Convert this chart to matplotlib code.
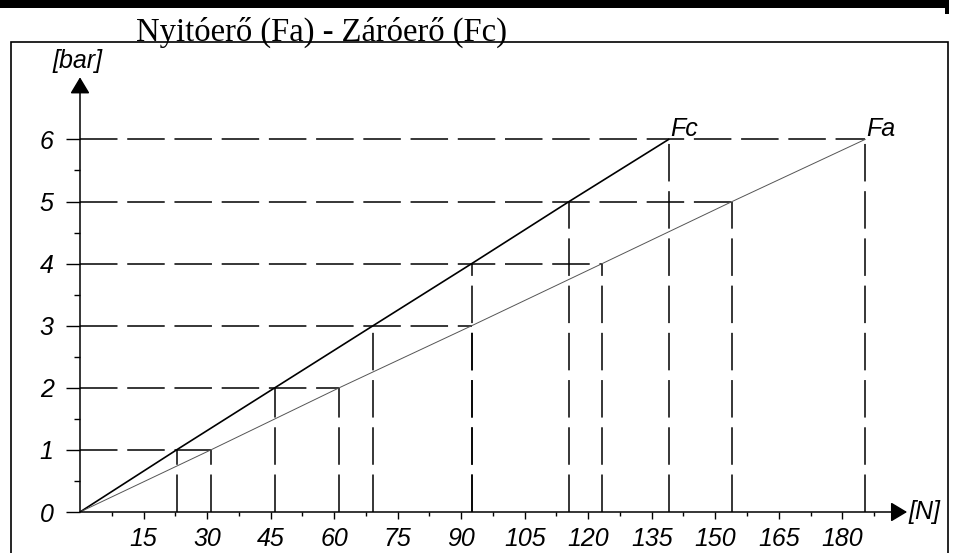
#plotting
import matplotlib
matplotlib.use('Agg')
import matplotlib.pyplot as plt
from matplotlib.patches import Rectangle

plt.rcParams['lines.scale_dashes'] = False

# values
pressure = [1, 2, 3, 4, 5, 6]                            # [bar]
fc_force = [22.8, 46.0, 69.2, 92.5, 115.5, 139.0]        # closing force Fc [N]
fa_force = [30.9, 61.2, 92.5, 123.3, 154.0, 185.4]       # opening force Fa [N]
x_ticks = [15, 30, 45, 60, 75, 90, 105, 120, 135, 150, 165, 180]
x_minor = [7.5 + 15 * i for i in range(13)]
y_ticks = [0, 1, 2, 3, 4, 5, 6]
y_minor = [0.5, 1.5, 2.5, 3.5, 4.5, 5.5]
title = 'Nyitóerő (Fa) - Záróerő (Fc)'

W, H = 956, 553
fig = plt.figure(figsize=(W / 100, H / 100), dpi=100)

# axes placed so 1 N = 4.235 px and 1 bar = 62.1 px, origin at (80, 512)
x0, y0 = 80, 512
xmax, ymax = 200, 7
ax = fig.add_axes([x0 / W, (H - y0) / H, xmax * 4.235 / W, ymax * 62.1 / H])
ax.set_xlim(0, xmax)
ax.set_ylim(0, ymax)
ax.patch.set_visible(False)
for s in ax.spines.values():
    s.set_visible(False)

dash = (0, (27, 7))
lw_d = 1.1

# dashed guide lines
for p, c, a in zip(pressure, fc_force, fa_force):
    ax.plot([0, a], [p, p], color='black', lw=lw_d, linestyle=dash)
    ax.plot([c, c], [0, p], color='black', lw=lw_d, linestyle=dash)
    ax.plot([a, a], [0, p], color='black', lw=lw_d, linestyle=dash)

# characteristic lines
ax.plot([0] + fc_force, [0] + pressure, color='black', lw=1.2)
ax.plot([0] + fa_force, [0] + pressure, color='#555555', lw=0.7)

afont = dict(family='Liberation Sans', style='italic', size=18)
ax.annotate('Fc', xy=(fc_force[-1], pressure[-1]), xytext=(1, -1),
            textcoords='offset points', ha='left', va='bottom', **afont)
ax.annotate('Fa', xy=(fa_force[-1], pressure[-1]), xytext=(1, -1),
            textcoords='offset points', ha='left', va='bottom', **afont)

# axes with arrows
ytip, xtip = 7.0, 195.3
arrow = dict(arrowstyle='-|>,head_length=1.0,head_width=0.6', mutation_scale=10,
             color='black', lw=1.1, shrinkA=0, shrinkB=0)
ax.annotate('', xy=(0, ytip), xytext=(0, 0), arrowprops=arrow)
ax.annotate('', xy=(xtip, 0), xytext=(0, 0), arrowprops=arrow)
ax.annotate('[bar]', xy=(0, ytip), xytext=(-2, 3), textcoords='offset points',
            ha='center', va='bottom', **afont)
ax.annotate('[N]', xy=(xtip, 0), xytext=(1, 0), textcoords='offset points',
            ha='left', va='center', **afont)

ax.set_xticks(x_ticks)
ax.set_xticks(x_minor, minor=True)
ax.set_yticks(y_ticks)
ax.set_yticks(y_minor, minor=True)
ax.set_xticklabels([str(v) for v in x_ticks], fontdict=afont)
ax.set_yticklabels([str(v) for v in y_ticks], fontdict=afont)
ax.tick_params(axis='y', which='major', direction='out', length=10, width=1, pad=9)
ax.tick_params(axis='y', which='minor', direction='out', length=4.3, width=1)
ax.tick_params(axis='x', which='major', direction='out', length=5, width=1, pad=6)
ax.tick_params(axis='x', which='minor', direction='out', length=3, width=1)

# scanned frame + title
fig.add_artist(Rectangle((11 / W, -0.05), 937 / W, (H - 42) / H + 0.05,
                         transform=fig.transFigure, fill=False, lw=1.2, color='black'))
fig.add_artist(Rectangle((0, 1 - 8 / H), 949 / W, 8 / H,
                         transform=fig.transFigure, color='black', lw=0))
fig.add_artist(Rectangle((945 / W, 1 - 14 / H), 4 / W, 14 / H,
                         transform=fig.transFigure, color='black', lw=0))
fig.text(321 / W, 1 - 41 / H, title, ha='center', va='baseline',
         family='Liberation Serif', size=23.5)

fig.savefig('out.png', dpi=100)
